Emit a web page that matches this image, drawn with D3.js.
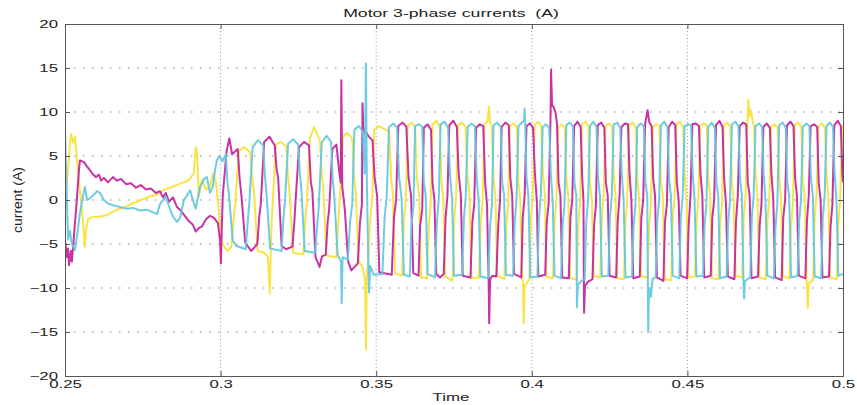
<!DOCTYPE html>
<html>
<head>
<meta charset="utf-8">
<script src="https://cdn.jsdelivr.net/npm/d3@7"></script>
<style>
  body { margin: 0; background: #fff; }
  text { font-family: "Liberation Sans", Arial, sans-serif; fill: #222; }
</style>
</head>
<body>
<div id="chart"></div>
<script>
const xTicks = [0.25, 0.3, 0.35, 0.4, 0.45, 0.5];
const xTickLabels = ["0.25", "0.3", "0.35", "0.4", "0.45", "0.5"];
const yTicks = [-20, -15, -10, -5, 0, 5, 10, 15, 20];

// phase currents, [time s, current A]
const magenta = [
  [0.2500,-4.5],[0.2506,-6.5],[0.2510,-5.5],[0.2513,-7.4],[0.2519,-5.8],[0.2522,-7.0],[0.2529,-4.0],[0.2539,0.5],[0.2545,3.5],[0.2548,4.5],
  [0.2561,4.3],[0.2571,3.8],[0.2580,3.4],[0.2590,2.9],[0.2600,2.6],[0.2609,2.9],[0.2616,2.2],[0.2625,2.5],[0.2638,2.0],[0.2654,2.6],
  [0.2667,2.2],[0.2680,2.4],[0.2696,1.8],[0.2712,1.9],[0.2728,1.4],[0.2744,1.7],[0.2760,1.2],[0.2776,1.3],[0.2792,0.8],[0.2805,1.0],
  [0.2815,0.3],[0.2824,0.8],[0.2834,-0.2],[0.2847,0.3],[0.2860,-0.8],[0.2872,-1.2],[0.2885,-1.8],[0.2898,-2.4],[0.2911,-2.8],[0.2920,-3.6],
  [0.2930,-3.2],[0.2940,-3.0],[0.2953,-2.2],[0.2966,-1.8],[0.2978,-2.0],[0.2991,-2.6],[0.2998,-4.5],[0.3001,-7.2],[0.3004,-3.0],
  [0.3007,0.5],[0.3019,5.5],[0.3028,7.0],[0.3037,5.2],[0.3055,5.8],[0.3061,2.5],[0.3067,0.5],[0.3079,-4.8],
  [0.3098,-5.8],[0.3118,-5.0],[0.3124,-2.0],[0.3129,-0.5],[0.3140,6.6],[0.3157,7.2],[0.3174,6.2],[0.3180,3.5],[0.3185,2.5],[0.3196,-5.2],[0.3210,-5.6],
  [0.3231,-5.3],[0.3237,-2.5],[0.3242,0.5],[0.3252,6.0],[0.3268,6.6],[0.3284,6.2],[0.3290,2.0],[0.3295,1.0],[0.3305,-6.5],[0.3318,-7.6],[0.3326,-6.4],
  [0.3338,-6.2],[0.3344,-2.5],[0.3349,-1.0],[0.3359,5.8],[0.3372,6.3],[0.3382,3.0],[0.3386,2.0],[0.3388,13.6],[0.3391,1.5],[0.3399,-1.0],[0.3410,-7.0],[0.3420,-8.0],
  [0.3441,-7.2],[0.3448,-2.5],[0.3454,-0.5],[0.3456,11.0],[0.3459,7.5],[0.3462,8.0],[0.3476,7.2],[0.3488,6.8],[0.3495,2.5],[0.3503,0.5],[0.3510,-8.2],
  [0.3550,-8.5],[0.3557,-2.0],[0.3564,0.0],[0.3571,8.4],[0.3585,8.8],[0.3597,8.3],[0.3604,2.5],[0.3612,0.5],[0.3619,-8.3],
  [0.3636,-8.6],[0.3641,-3.0],[0.3648,-1.0],[0.3653,8.2],[0.3665,8.6],[0.3676,8.0],[0.3681,2.0],[0.3687,0.0],[0.3693,-8.4],[0.3705,-8.8],
  [0.3717,-8.4],[0.3723,-2.0],[0.3729,0.5],[0.3735,8.5],[0.3748,9.0],[0.3759,8.3],[0.3765,3.0],[0.3772,0.5],[0.3778,-8.6],
  [0.3803,-8.8],[0.3809,-2.5],[0.3815,-0.5],[0.3821,8.2],[0.3833,8.6],[0.3844,8.4],[0.3850,2.0],[0.3856,-0.5],[0.3861,-8.5],[0.3863,-14.0],[0.3866,-9.0],[0.3874,-8.6],
  [0.3886,-8.7],[0.3892,-3.0],[0.3898,0.0],[0.3903,8.3],[0.3915,8.8],[0.3926,8.5],[0.3931,2.5],[0.3937,0.5],[0.3943,-8.4],
  [0.3966,-8.8],[0.3971,-2.0],[0.3977,0.5],[0.3983,8.4],[0.3994,8.7],[0.4004,8.2],[0.4010,3.0],[0.4016,0.0],[0.4021,-8.7],
  [0.4043,-8.5],[0.4048,-2.5],[0.4054,-0.5],[0.4060,9.0],[0.4062,14.8],[0.4065,10.8],[0.4071,10.5],[0.4077,9.8],[0.4081,8.6],[0.4086,2.0],[0.4092,0.5],[0.4098,-8.8],
  [0.4119,-8.9],[0.4124,-2.0],[0.4130,0.0],[0.4136,8.4],[0.4147,8.9],[0.4157,8.3],[0.4162,2.5],[0.4166,0.0],[0.4168,-12.8],[0.4171,-9.8],[0.4180,-9.3],
  [0.4195,-9.0],[0.4200,-3.0],[0.4206,-0.5],[0.4212,8.5],[0.4223,8.8],[0.4233,8.2],[0.4238,2.0],[0.4244,0.5],[0.4250,-8.6],
  [0.4271,-8.8],[0.4276,-2.5],[0.4282,0.5],[0.4288,8.3],[0.4299,8.7],[0.4309,8.6],[0.4314,3.0],[0.4320,0.0],[0.4326,-8.9],
  [0.4347,-8.7],[0.4352,-2.0],[0.4358,0.0],[0.4364,8.6],[0.4372,10.2],[0.4378,8.8],[0.4385,8.4],[0.4390,2.5],[0.4396,0.5],[0.4402,-8.8],
  [0.4423,-9.2],[0.4428,-2.5],[0.4434,-0.5],[0.4440,8.3],[0.4451,8.9],[0.4461,8.5],[0.4466,2.0],[0.4472,0.0],[0.4478,-8.6],
  [0.4499,-8.9],[0.4504,-3.0],[0.4510,0.5],[0.4516,8.6],[0.4527,8.7],[0.4537,8.4],[0.4542,3.0],[0.4548,0.5],[0.4554,-8.8],
  [0.4575,-8.6],[0.4580,-2.0],[0.4586,0.0],[0.4592,8.5],[0.4603,9.0],[0.4613,8.3],[0.4618,2.5],[0.4624,-0.5],[0.4630,-8.7],
  [0.4651,-9.0],[0.4656,-2.5],[0.4662,0.5],[0.4668,8.4],[0.4679,8.8],[0.4689,8.6],[0.4694,2.0],[0.4700,0.5],[0.4706,-8.9],
  [0.4727,-8.7],[0.4732,-3.0],[0.4738,-0.5],[0.4744,8.3],[0.4755,8.7],[0.4765,8.2],[0.4770,3.0],[0.4776,0.0],[0.4782,-8.8],
  [0.4803,-9.1],[0.4808,-2.0],[0.4814,0.0],[0.4820,8.5],[0.4831,8.9],[0.4841,8.4],[0.4846,2.5],[0.4852,0.5],[0.4858,-8.6],
  [0.4879,-8.9],[0.4884,-2.5],[0.4890,0.5],[0.4896,8.4],[0.4907,8.6],[0.4917,8.3],[0.4922,2.0],[0.4928,0.0],[0.4934,-8.8],
  [0.4955,-8.7],[0.4960,-3.0],[0.4966,-0.5],[0.4972,8.5],[0.4983,9.0],[0.4993,8.4],[0.4998,3.0],[0.5000,2.0]
];

const cyan = [
  [0.2500,8.0],[0.2503,4.0],[0.2506,0.0],[0.2510,-4.5],[0.2516,-3.5],[0.2522,-5.0],[0.2532,-5.7],[0.2539,-4.0],[0.2548,-1.5],[0.2558,0.5],
  [0.2564,1.5],[0.2571,0.0],[0.2580,0.2],[0.2590,0.5],[0.2603,1.0],[0.2612,0.8],[0.2625,0.0],[0.2638,-0.4],[0.2654,-0.6],[0.2677,-0.8],
  [0.2699,-1.0],[0.2718,-0.9],[0.2741,-1.2],[0.2763,-1.1],[0.2783,-1.4],[0.2796,-1.6],[0.2805,-0.5],[0.2815,0.0],[0.2824,0.4],[0.2837,-1.0],
  [0.2847,-1.9],[0.2860,-2.5],[0.2870,-2.0],[0.2882,0.0],[0.2892,0.5],[0.2902,1.1],[0.2911,0.0],[0.2920,-1.0],[0.2934,1.5],[0.2947,2.4],
  [0.2956,2.6],[0.2966,0.8],[0.2975,1.5],[0.2982,3.4],[0.2988,4.5],
  [0.2997,5.0],[0.3006,4.4],[0.3017,5.2],[0.3022,2.0],[0.3027,0.5],[0.3039,-4.6],[0.3050,-5.2],
  [0.3081,-5.6],[0.3087,-2.5],[0.3092,-0.5],[0.3103,6.0],[0.3120,6.8],[0.3137,6.2],[0.3143,2.5],[0.3148,0.5],[0.3159,-5.5],
  [0.3196,-5.8],[0.3202,-2.0],[0.3207,0.0],[0.3217,6.4],[0.3233,6.9],[0.3249,6.3],[0.3255,3.0],[0.3260,1.0],[0.3270,-5.8],
  [0.3304,-6.0],[0.3310,-3.0],[0.3315,-1.0],[0.3325,6.5],[0.3340,7.3],[0.3355,6.6],[0.3360,2.5],[0.3365,0.5],[0.3376,-6.2],[0.3387,-7.0],[0.3389,-11.7],[0.3392,-6.5],
  [0.3409,-6.8],[0.3416,-2.5],[0.3423,-0.5],[0.3430,8.0],[0.3444,8.4],[0.3457,7.8],[0.3463,3.0],[0.3467,15.5],[0.3470,2.0],[0.3474,-6.0],[0.3477,-10.5],[0.3481,-7.5],[0.3492,-8.5],
  [0.3520,-8.4],[0.3527,-2.0],[0.3534,0.5],[0.3541,8.3],[0.3555,8.7],[0.3567,8.2],[0.3574,2.5],[0.3582,0.0],[0.3589,-8.5],
  [0.3608,-8.7],[0.3613,-3.0],[0.3620,-0.5],[0.3625,8.4],[0.3637,8.6],[0.3648,8.3],[0.3653,2.0],[0.3659,0.5],[0.3665,-8.4],
  [0.3689,-8.8],[0.3695,-2.5],[0.3701,0.0],[0.3707,8.6],[0.3720,8.9],[0.3731,8.2],[0.3737,3.0],[0.3744,0.0],[0.3750,-8.6],
  [0.3776,-8.5],[0.3782,-2.0],[0.3788,0.5],[0.3794,8.3],[0.3806,8.7],[0.3817,8.4],[0.3823,2.5],[0.3829,0.0],[0.3835,-8.7],
  [0.3860,-8.9],[0.3866,-3.0],[0.3872,-0.5],[0.3877,8.5],[0.3889,8.8],[0.3900,8.3],[0.3905,2.0],[0.3911,0.5],[0.3917,-8.5],
  [0.3940,-8.6],[0.3945,-2.5],[0.3951,0.0],[0.3957,8.4],[0.3968,8.8],[0.3975,9.0],[0.3977,10.4],[0.3979,8.6],[0.3983,2.5],[0.3989,0.5],[0.3995,-8.8],
  [0.4018,-8.7],[0.4023,-2.0],[0.4029,0.5],[0.4035,8.3],[0.4046,8.6],[0.4056,8.2],[0.4061,3.0],[0.4067,0.0],[0.4073,-8.6],
  [0.4094,-8.9],[0.4099,-3.0],[0.4105,-0.5],[0.4111,8.5],[0.4122,8.8],[0.4132,8.4],[0.4137,2.0],[0.4143,0.5],[0.4145,-12.2],[0.4148,-9.6],[0.4160,-9.2],
  [0.4170,-9.0],[0.4175,-2.5],[0.4181,0.0],[0.4187,8.4],[0.4198,8.9],[0.4208,8.3],[0.4213,2.5],[0.4219,0.5],[0.4225,-8.7],
  [0.4246,-8.6],[0.4251,-2.0],[0.4257,0.5],[0.4263,8.6],[0.4274,8.8],[0.4284,8.2],[0.4289,3.0],[0.4295,0.0],[0.4301,-8.8],
  [0.4322,-8.7],[0.4327,-3.0],[0.4333,-0.5],[0.4339,8.3],[0.4350,8.7],[0.4360,8.4],[0.4365,2.0],[0.4371,0.5],[0.4374,-15.0],[0.4377,-10.0],[0.4383,-11.0],[0.4388,-9.0],
  [0.4398,-8.8],[0.4403,-2.5],[0.4409,0.0],[0.4415,8.5],[0.4426,8.9],[0.4436,8.3],[0.4441,2.5],[0.4447,0.5],[0.4453,-8.6],
  [0.4474,-8.9],[0.4479,-2.0],[0.4485,0.5],[0.4491,8.4],[0.4502,8.6],[0.4512,8.5],[0.4517,3.0],[0.4523,0.0],[0.4529,-8.7],
  [0.4550,-8.6],[0.4555,-3.0],[0.4561,-0.5],[0.4567,8.3],[0.4578,8.8],[0.4588,8.2],[0.4593,2.0],[0.4599,0.5],[0.4605,-8.9],
  [0.4626,-8.7],[0.4631,-2.5],[0.4637,0.0],[0.4643,8.6],[0.4654,8.9],[0.4664,8.4],[0.4669,2.5],[0.4675,0.5],[0.4680,-9.0],[0.4682,-11.2],[0.4685,-9.2],
  [0.4702,-8.8],[0.4707,-2.0],[0.4713,0.5],[0.4719,8.4],[0.4730,8.7],[0.4740,8.3],[0.4745,3.0],[0.4751,0.0],[0.4757,-8.6],
  [0.4778,-8.9],[0.4783,-3.0],[0.4789,-0.5],[0.4795,8.5],[0.4806,8.8],[0.4816,8.2],[0.4821,2.0],[0.4827,0.5],[0.4833,-8.8],
  [0.4854,-8.6],[0.4859,-2.5],[0.4865,0.0],[0.4871,8.3],[0.4882,8.7],[0.4892,8.4],[0.4897,2.5],[0.4903,0.5],[0.4909,-8.7],
  [0.4930,-8.9],[0.4935,-2.0],[0.4941,0.5],[0.4947,8.4],[0.4958,8.8],[0.4968,8.3],[0.4973,3.0],[0.4979,0.0],[0.4985,-8.6],[0.5000,-8.4]
];

const yellow = [
  [0.2500,-1.0],[0.2506,2.0],[0.2513,5.0],[0.2519,7.5],[0.2526,6.5],[0.2532,7.2],[0.2539,4.3],[0.2548,1.0],[0.2554,-0.8],[0.2561,-4.0],
  [0.2564,-5.3],[0.2567,-3.5],[0.2574,-2.2],[0.2590,-1.9],[0.2612,-1.9],[0.2635,-1.7],[0.2651,-1.4],[0.2667,-1.1],[0.2693,-0.8],[0.2718,-0.4],
  [0.2744,0.0],[0.2773,0.4],[0.2796,0.6],[0.2815,1.1],[0.2837,1.4],[0.2860,1.7],[0.2879,2.0],[0.2892,2.1],[0.2905,2.6],[0.2914,3.0],
  [0.2920,6.0],[0.2924,5.5],[0.2930,0.4],[0.2940,2.3],[0.2953,1.2],[0.2966,1.5],[0.2975,3.0],[0.2985,2.0],[0.2995,-1.5],[0.3001,-4.5],
  [0.3010,-5.2],[0.3022,-5.8],[0.3035,-5.3],[0.3041,-2.5],[0.3047,-0.5],[0.3059,5.6],[0.3077,6.0],[0.3095,5.4],[0.3101,2.5],[0.3107,1.0],[0.3119,-5.8],
  [0.3140,-6.0],[0.3152,-6.5],[0.3158,-10.6],[0.3161,-6.2],[0.3164,-2.5],[0.3168,0.0],[0.3177,6.3],[0.3194,6.6],[0.3211,6.1],[0.3216,3.0],[0.3222,0.5],[0.3233,-6.0],
  [0.3266,-6.2],[0.3272,-2.0],[0.3277,-0.5],[0.3287,7.0],[0.3300,8.3],[0.3319,6.8],[0.3325,3.0],[0.3330,1.5],[0.3340,-6.3],
  [0.3372,-6.5],[0.3378,-2.5],[0.3383,0.0],[0.3393,7.2],[0.3408,7.6],[0.3423,7.0],[0.3429,2.5],[0.3434,1.0],[0.3444,-7.0],
  [0.3455,-7.5],[0.3464,-9.0],[0.3467,-17.0],[0.3470,-8.0],[0.3473,-7.8],[0.3480,-2.5],[0.3487,0.0],[0.3494,8.0],[0.3508,8.4],[0.3530,8.0],[0.3542,7.8],[0.3548,2.5],[0.3554,0.5],[0.3560,-8.3],
  [0.3583,-8.6],[0.3589,-2.5],[0.3595,0.0],[0.3601,8.4],[0.3614,8.8],[0.3625,8.3],[0.3631,2.5],[0.3638,0.5],[0.3644,-8.8],
  [0.3663,-8.9],[0.3669,-3.0],[0.3675,-0.5],[0.3681,8.6],[0.3693,9.0],[0.3704,8.4],[0.3710,2.0],[0.3716,0.0],[0.3722,-8.7],
  [0.3745,-9.2],[0.3751,-2.0],[0.3757,0.5],[0.3763,8.5],[0.3776,8.8],[0.3787,8.3],[0.3793,3.0],[0.3800,0.5],[0.3806,-8.9],
  [0.3830,-8.8],[0.3836,-2.5],[0.3842,0.0],[0.3848,8.6],[0.3858,9.0],[0.3862,10.6],[0.3866,8.8],[0.3871,8.4],[0.3877,2.5],[0.3883,0.5],[0.3889,-8.6],
  [0.3912,-9.0],[0.3918,-3.0],[0.3924,-0.5],[0.3929,8.4],[0.3941,8.7],[0.3952,8.3],[0.3957,2.0],[0.3963,0.0],[0.3969,-8.8],
  [0.3972,-9.5],[0.3974,-14.0],[0.3977,-9.8],[0.3992,-9.0],[0.3997,-2.0],[0.4003,0.5],[0.4009,8.5],[0.4020,8.9],[0.4030,8.4],[0.4036,3.0],[0.4042,0.5],[0.4047,-8.7],
  [0.4068,-8.9],[0.4073,-2.5],[0.4079,0.0],[0.4085,8.3],[0.4096,8.6],[0.4106,8.2],[0.4111,2.5],[0.4117,0.5],[0.4123,-8.8],
  [0.4144,-9.1],[0.4149,-3.0],[0.4155,-0.5],[0.4161,8.6],[0.4172,8.9],[0.4182,8.4],[0.4187,2.0],[0.4193,0.0],[0.4199,-8.6],
  [0.4220,-8.8],[0.4225,-2.0],[0.4231,0.5],[0.4237,8.4],[0.4248,8.7],[0.4258,8.3],[0.4263,3.0],[0.4269,0.5],[0.4275,-8.9],
  [0.4296,-9.0],[0.4301,-2.5],[0.4307,0.0],[0.4313,8.5],[0.4324,8.8],[0.4334,8.2],[0.4339,2.5],[0.4345,0.0],[0.4351,-8.7],
  [0.4372,-8.8],[0.4377,-3.0],[0.4383,-0.5],[0.4389,8.3],[0.4400,8.6],[0.4410,8.4],[0.4415,2.0],[0.4421,0.5],[0.4427,-9.0],
  [0.4448,-9.1],[0.4453,-2.0],[0.4459,0.5],[0.4465,8.6],[0.4476,8.9],[0.4486,8.3],[0.4491,3.0],[0.4497,0.0],[0.4503,-8.8],
  [0.4524,-8.7],[0.4529,-2.5],[0.4535,0.0],[0.4541,8.4],[0.4552,8.7],[0.4562,8.5],[0.4567,2.5],[0.4573,0.5],[0.4579,-8.9],
  [0.4600,-9.0],[0.4605,-3.0],[0.4611,-0.5],[0.4617,8.5],[0.4628,8.8],[0.4638,8.3],[0.4643,2.0],[0.4649,0.0],[0.4655,-8.6],
  [0.4676,-8.8],[0.4681,-2.0],[0.4687,0.5],[0.4693,8.8],[0.4696,11.4],[0.4699,9.5],[0.4704,10.2],[0.4710,8.9],[0.4714,8.4],[0.4719,3.0],[0.4725,0.5],[0.4731,-8.8],
  [0.4752,-9.0],[0.4757,-2.5],[0.4763,0.0],[0.4769,8.3],[0.4780,8.6],[0.4790,8.2],[0.4795,2.5],[0.4801,0.0],[0.4807,-8.7],
  [0.4828,-8.9],[0.4833,-3.0],[0.4839,-0.5],[0.4845,8.5],[0.4856,8.8],[0.4866,8.3],[0.4871,2.0],[0.4877,0.5],[0.4883,-9.0],[0.4887,-12.3],[0.4890,-9.5],
  [0.4904,-9.1],[0.4909,-2.0],[0.4915,0.5],[0.4921,8.4],[0.4932,8.7],[0.4942,8.2],[0.4947,3.0],[0.4953,0.0],[0.4959,-8.8],
  [0.4980,-9.0],[0.4985,-2.5],[0.4991,0.0],[0.4997,8.3],[0.5000,8.5]
];

const width = 857;
const height = 405;
const margin = {top: 24, right: 14, bottom: 29, left: 65};
const x0 = margin.left, x1 = width - margin.right;
const y0 = margin.top, y1 = height - margin.bottom;
const stretch = 1.6;

const svg = d3.select("#chart").append("svg")
  .attr("width", width)
  .attr("height", height);

const x = d3.scaleLinear().domain([0.25, 0.5]).range([x0, x1]);
const y = d3.scaleLinear().domain([-20, 20]).range([y1, y0]);

// dotted grid
const grid = svg.append("g");
grid.selectAll("line.gy")
  .data(yTicks.slice(1, -1))
  .enter().append("line")
    .attr("x1", x0).attr("x2", x1)
    .attr("y1", d => y(d)).attr("y2", d => y(d))
    .attr("stroke", "#8a8a8a")
    .attr("stroke-width", 1.2)
    .attr("stroke-dasharray", "1.5,7.5");
grid.selectAll("line.gx")
  .data(xTicks.slice(1, -1))
  .enter().append("line")
    .attr("x1", d => x(d)).attr("x2", d => x(d))
    .attr("y1", y0).attr("y2", y1)
    .attr("stroke", "#9a9a9a")
    .attr("stroke-width", 1)
    .attr("stroke-dasharray", "1,2.5");

// traces
svg.append("clipPath").attr("id", "clip")
  .append("rect").attr("x", x0).attr("y", y0).attr("width", x1 - x0).attr("height", y1 - y0);

const line = d3.line().x(d => x(d[0])).y(d => y(d[1]));
const traces = svg.append("g").attr("clip-path", "url(#clip)");
[[yellow, "#f7e236"], [magenta, "#c2229f"], [cyan, "#62c8de"]].forEach(s => {
  traces.append("path")
    .datum(s[0])
    .attr("fill", "none")
    .attr("stroke", s[1])
    .attr("stroke-width", 2)
    .attr("stroke-opacity", 0.92)
    .attr("stroke-linejoin", "round")
    .attr("d", line);
});

// axes with inward ticks
const fmt = (d, i) => xTickLabels[i];
svg.append("g").attr("transform", `translate(0,${y1})`)
  .call(d3.axisBottom(x).tickValues(xTicks).tickFormat(fmt).tickSize(-5).tickPadding(5));
svg.append("g").attr("transform", `translate(0,${y0})`)
  .call(d3.axisTop(x).tickValues(xTicks).tickFormat("").tickSize(-5));
svg.append("g").attr("transform", `translate(${x0},0)`)
  .call(d3.axisLeft(y).tickValues(yTicks).tickSize(-5).tickPadding(7));
svg.append("g").attr("transform", `translate(${x1},0)`)
  .call(d3.axisRight(y).tickValues(yTicks).tickFormat("").tickSize(-5));

svg.selectAll(".domain").attr("stroke", "#555");
svg.selectAll(".tick line").attr("stroke", "#555");
svg.selectAll(".tick text")
  .attr("fill", "#222")
  .style("font-size", "10.5px")
  .each(function() {
    const w = this.getComputedTextLength();
    d3.select(this).attr("textLength", w * stretch).attr("lengthAdjust", "spacingAndGlyphs");
  });

// titles
const title = svg.append("text")
  .attr("x", (x0 + x1) / 2 - 3)
  .attr("y", 17)
  .attr("text-anchor", "middle")
  .style("font-size", "10.5px")
  .text("Motor 3-phase currents\u00a0\u00a0(A)");

const xLabel = svg.append("text")
  .attr("x", (x0 + x1) / 2 - 3)
  .attr("y", 401)
  .attr("text-anchor", "middle")
  .style("font-size", "10.5px")
  .text("Time");

title.attr("textLength", title.node().getComputedTextLength() * 1.68).attr("lengthAdjust", "spacingAndGlyphs");
xLabel.attr("textLength", xLabel.node().getComputedTextLength() * stretch).attr("lengthAdjust", "spacingAndGlyphs");

svg.append("text")
  .attr("transform", "translate(22,200) rotate(-90)")
  .attr("text-anchor", "middle")
  .style("font-size", "12px")
  .attr("textLength", 66)
  .attr("lengthAdjust", "spacingAndGlyphs")
  .text("current (A)");
</script>
</body>
</html>
